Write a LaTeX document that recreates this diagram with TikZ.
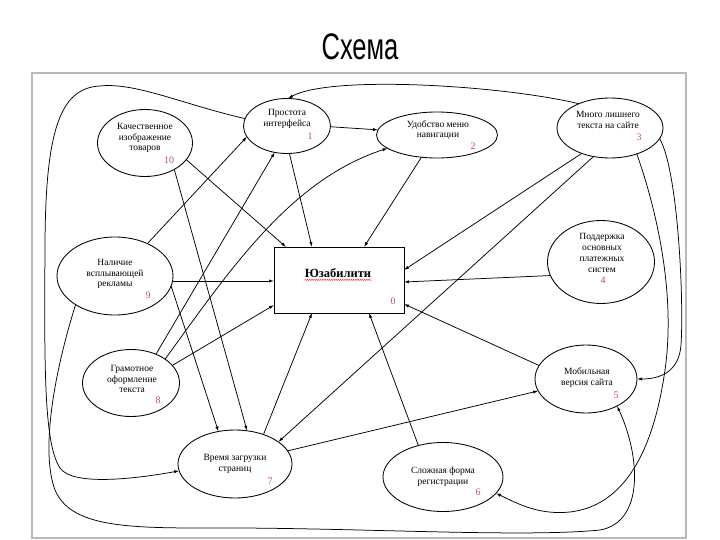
\documentclass[tikz,border=0pt]{standalone}
\usepackage{fontspec}
\setmainfont{Liberation Serif}
\newfontfamily\titlefont{Liberation Sans}
\usepackage{xcolor}
\usetikzlibrary{shapes.geometric, arrows.meta, calc, decorations.pathmorphing}
\definecolor{numred}{RGB}{192,80,77}
\tikzset{
  concept/.style={ellipse, draw=black, line width=0.85pt, inner sep=0pt, outer sep=0pt},
  ctext/.style={font=\fontsize{9.5}{10.8}\selectfont, align=center, inner sep=0pt},
  cnum/.style={font=\fontsize{10}{12}\selectfont, text=numred, inner sep=0pt},
  goal/.style={rectangle, draw=black, line width=0.9pt, inner sep=0pt, outer sep=0pt},
  arr/.style={-{Latex[length=5pt,width=3.2pt]}, draw=black, line width=0.75pt},
}

\begin{document}
\begin{tikzpicture}[x=1pt, y=-1pt]
  \useasboundingbox (0,0) rectangle (720,540);
  \node[font=\titlefont\fontsize{37}{40}\selectfont, inner sep=0pt] (title) at (360,47)
    {\scalebox{0.69}[1]{Схема}};
  \draw[gray!55, line width=1.8pt] (32,73) rectangle (686,538);

  % goal
  \node[goal, minimum width=130, minimum height=66] (usab) at (339,280) {};
  \node[font=\bfseries\fontsize{12.5}{14}\selectfont, inner sep=0pt] (usab-t) at (338,273) {Юзабилити};
  \node[cnum] (usab-n) at (393,301) {0};
  \draw[red, line width=0.4pt, decorate, decoration={snake, amplitude=0.5pt, segment length=2.2pt}]
    ([yshift=-2.5pt]usab-t.base west) -- ([yshift=-2.5pt]usab-t.base east);

  % factors
  \node[concept, minimum width=87, minimum height=55] (simp) at (287,126) {};
  \node[ctext] (simp-t) at (287,119) {Простота\\интерфейса};
  \node[cnum] (simp-n) at (310,136) {1};

  \node[concept, minimum width=121, minimum height=46] (menu) at (437,135) {};
  \node[ctext] (menu-t) at (438,130) {Удобство меню\\навигации};
  \node[cnum] (menu-n) at (473,146) {2};

  \node[concept, minimum width=106, minimum height=60] (extra) at (610,128) {};
  \node[ctext] (extra-t) at (608,120) {Много лишнего\\текста на сайте};
  \node[cnum] (extra-n) at (639,137) {3};

  \node[concept, minimum width=107, minimum height=83] (pay) at (601,262) {};
  \node[ctext] (pay-t) at (602,253) {Поддержка\\основных\\платежных\\систем};
  \node[cnum] (pay-n) at (603,280) {4};

  \node[concept, minimum width=102, minimum height=68] (mob) at (586,379) {};
  \node[ctext] (mob-t) at (587,378) {Мобильная\\версия сайта};
  \node[cnum] (mob-n) at (616,395) {5};

  \node[concept, minimum width=120, minimum height=69] (reg) at (443,477) {};
  \node[ctext] (reg-t) at (443,477) {Сложная форма\\регистрации};
  \node[cnum] (reg-n) at (478,492) {6};

  \node[concept, minimum width=114, minimum height=68] (load) at (235,464) {};
  \node[ctext] (load-t) at (235,464) {Время загрузки\\страниц};
  \node[cnum] (load-n) at (270,481) {7};

  \node[concept, minimum width=97, minimum height=67] (gram) at (131,383) {};
  \node[ctext] (gram-t) at (132,379) {Грамотное\\оформление\\текста};
  \node[cnum] (gram-n) at (158,400) {8};

  \node[concept, minimum width=116, minimum height=78] (ads) at (115,276) {};
  \node[ctext] (ads-t) at (115,274) {Наличие\\всплывающей\\рекламы};
  \node[cnum] (ads-n) at (148,295) {9};

  \node[concept, minimum width=95, minimum height=67] (img) at (145,143) {};
  \node[ctext] (img-t) at (145,138) {Качественное\\изображение\\товаров};
  \node[cnum] (img-n) at (169,160) {10};

  % straight links
  \draw[arr] (simp.-1) -- (menu.175);
  \draw[arr] (simp.-85) -- ([xshift=38pt]usab.north west);
  \draw[arr] (menu.235) -- ([xshift=-40pt]usab.north east);
  \draw[arr] (img.-22) -- ([xshift=12pt]usab.north west);
  \draw[arr] (img.-42) -- (load.70);
  \draw[arr] (ads.45) -- (simp.195);
  \draw[arr] (ads.-5) -- (ads.-5 -| usab.west);
  \draw[arr] (ads.-10) -- (load.117);
  \draw[arr] (gram.49) -- (simp.245);
  \draw[arr] (gram.23) -- ([yshift=8pt]usab.south west);
  \draw[arr] (load.46) -- ([xshift=38pt]usab.south west);
  \draw[arr] (extra.222) -- ([yshift=10pt]usab.east);
  \draw[arr] (extra.240) -- (load.27);
  \draw[arr] (pay.195) -- ([yshift=-2pt]usab.east);
  \draw[arr] (mob.164) -- ([yshift=9pt]usab.south east);
  \draw[arr] (reg.128) -- ([xshift=-35pt]usab.south east);
  \draw[arr] (load.14) -- (mob.194);

  % curved links
  \draw[arr] (gram.35) .. controls (230,270) and (290,180) .. (menu.195);
  \draw[arr] (extra.142) .. controls (500,85) and (330,75) .. (simp.88);
  \draw[arr] (simp.170) .. controls (185,105) and (135,82) .. (100,86)
    .. controls (60,88) and (45,130) .. (45,250)
    .. controls (44,380) and (45,445) .. (60,468)
    .. controls (73,487) and (140,478) .. (load.187);
  \draw[arr] (ads.216) .. controls (55,370) and (40,450) .. (55,490)
    .. controls (70,525) and (120,528) .. (200,528)
    .. controls (350,527) and (520,538) .. (600,530)
    .. controls (645,522) and (640,455) .. (mob.-41);
  \draw[arr] (extra.-44) .. controls (660,220) and (675,300) .. (665,370)
    .. controls (655,440) and (630,505) .. (570,512)
    .. controls (540,515) and (520,505) .. (reg.-17);
  \draw[arr] (extra.-12) .. controls (678,170) and (684,300) .. (681,345)
    .. controls (679,372) and (660,379) .. (mob.east);
\end{tikzpicture}
\end{document}
